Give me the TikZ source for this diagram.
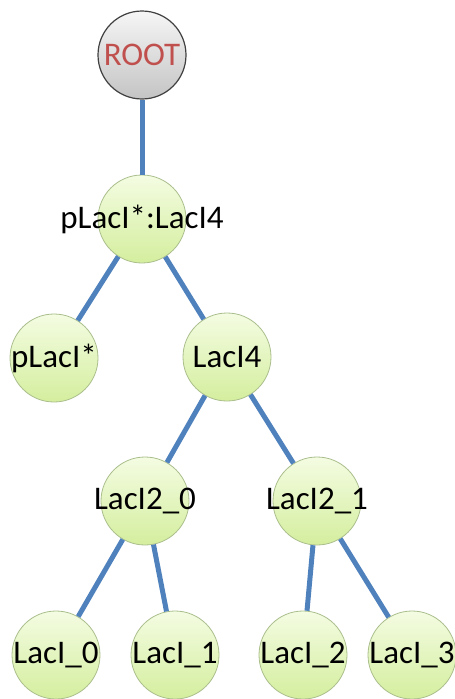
\documentclass[tikz,border=0pt]{standalone}
\usepackage{fontspec}
\setmainfont{Carlito}
\definecolor{edgeblue}{RGB}{79,129,189}
\definecolor{leaftop}{RGB}{244,252,226}
\definecolor{leafbot}{RGB}{212,238,158}
\definecolor{leafline}{RGB}{170,190,140}
\definecolor{roottop}{RGB}{246,246,246}
\definecolor{rootbot}{RGB}{196,196,196}
\definecolor{roottext}{RGB}{192,80,77}
% label of zero width, so the circle keeps its size
\newcommand{\nodetext}[1]{\makebox[0pt]{#1}}
\begin{document}
\begin{tikzpicture}[x=1pt,y=-1pt,
  tnode/.style={circle,minimum size=88pt,inner sep=0pt,
    top color=leaftop,bottom color=leafbot,draw=leafline,line width=0.8pt,
    font=\fontsize{33}{38}\selectfont},
  rootnode/.style={tnode,top color=roottop,bottom color=rootbot,
    draw=black!75,line width=1.2pt,text=roottext},
  link/.style={draw=edgeblue,line width=5pt}]
\useasboundingbox (0,0) rectangle (455,699);
% tree nodes
\node[rootnode] (root) at (142,55) {\nodetext{ROOT}};
\node[tnode] (cplx) at (142,219) {\nodetext{pLacI*:LacI4}};
\node[tnode] (plac) at (54,358) {\nodetext{pLacI*}};
\node[tnode] (l4) at (227,357) {\nodetext{LacI4}};
\node[tnode] (l20) at (145,501) {\nodetext{LacI2\_0}};
\node[tnode] (l21) at (317,501) {\nodetext{LacI2\_1}};
\node[tnode] (l0) at (56,655) {\nodetext{LacI\_0}};
\node[tnode] (l1) at (175,655) {\nodetext{LacI\_1}};
\node[tnode] (l2) at (303,655) {\nodetext{LacI\_2}};
\node[tnode] (l3) at (412,655) {\nodetext{LacI\_3}};
% branches
\path[link] (root) -- (cplx);
\path[link] (cplx) -- (plac);
\path[link] (cplx) -- (l4);
\path[link] (l4) -- (l20);
\path[link] (l4) -- (l21);
\path[link] (l20) -- (l0);
\path[link] (l20) -- (l1);
\path[link] (l21) -- (l2);
\path[link] (l21) -- (l3);
\end{tikzpicture}
\end{document}
